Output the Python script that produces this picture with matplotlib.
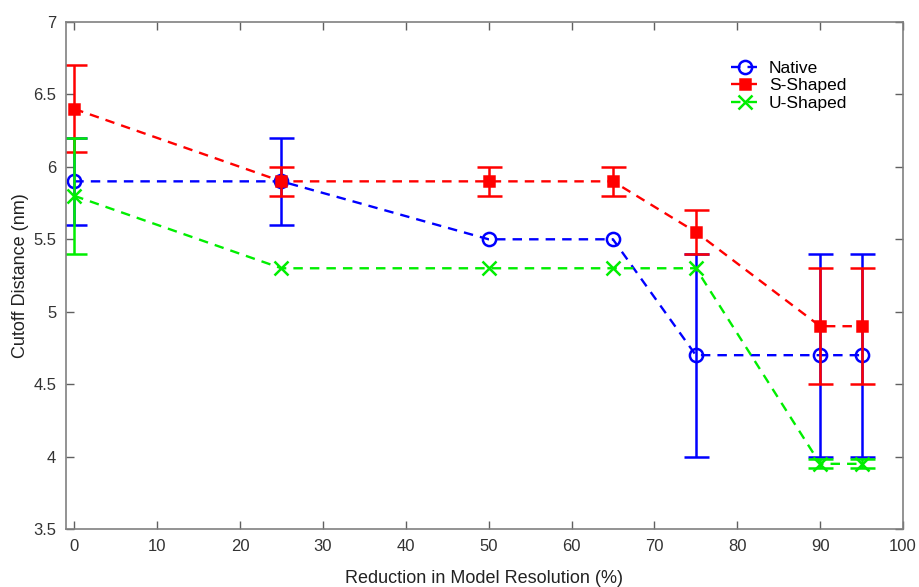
import matplotlib
matplotlib.use("Agg")
import matplotlib.pyplot as plt

plt.rcParams['font.family'] = ['Liberation Sans', 'DejaVu Sans']

reduction = [0, 25, 50, 65, 75, 90, 95]

native = [5.9, 5.9, 5.5, 5.5, 4.7, 4.7, 4.7]
native_err = [0.3, 0.3, 0.0, 0.0, 0.7, 0.7, 0.7]

s_shaped = [6.4, 5.9, 5.9, 5.9, 5.55, 4.9, 4.9]
s_shaped_err = [0.3, 0.1, 0.1, 0.1, 0.15, 0.4, 0.4]

u_shaped = [5.8, 5.3, 5.3, 5.3, 5.3, 3.95, 3.95]
u_shaped_err = [0.4, 0.0, 0.0, 0.0, 0.0, 0.03, 0.03]

x_ticks = list(range(0, 101, 10))
y_ticks = [3.5, 4, 4.5, 5, 5.5, 6, 6.5, 7]
y_tick_labels = ['3.5', '4', '4.5', '5', '5.5', '6', '6.5', '7']

fig = plt.figure(figsize=(9.19, 5.87), dpi=100)
ax = fig.add_axes([0.0718, 0.0988, 0.9108, 0.8637])

series = [
    ("Native", native, native_err, '#0000ff', 'o', 'none', 9.5),
    ("S-Shaped", s_shaped, s_shaped_err, '#ff0000', 's', '#ff0000', 7.5),
    ("U-Shaped", u_shaped, u_shaped_err, '#00ee00', 'x', '#00ee00', 10.5),
]

handles = []
for name, vals, errs, col, mk, mfc, ms in series:
    line, = ax.plot(reduction, vals, color=col, linestyle=(0, (4, 3)),
                    linewidth=1.7, marker=mk, markersize=ms,
                    markerfacecolor=mfc, markeredgecolor=col,
                    markeredgewidth=1.8, label=name)
    handles.append(line)
    # error bars only where a spread was measured
    xs = [x for x, e in zip(reduction, errs) if e > 0]
    ys = [v for v, e in zip(vals, errs) if e > 0]
    es = [e for e in errs if e > 0]
    ax.errorbar(xs, ys, yerr=es, fmt='none', ecolor=col,
                elinewidth=1.8, capsize=9, capthick=1.8)

ax.set_xlim(-1, 100)
ax.set_ylim(3.5, 7)
ax.set_xticks(x_ticks)
ax.set_yticks(y_ticks)
ax.set_yticklabels(y_tick_labels)

for sp in ax.spines.values():
    sp.set_color('#808080')
    sp.set_linewidth(1.2)
ax.tick_params(direction='in', top=True, right=True, length=6, width=1,
               color='#606060', labelsize=12, labelcolor='#333333', pad=7)

ax.set_xlabel('Reduction in Model Resolution (%)', fontsize=13, color='#222222', labelpad=12)
ax.set_ylabel('Cutoff Distance (nm)', fontsize=13, color='#222222', labelpad=3)

ax.legend(handles=handles, loc='upper right', bbox_to_anchor=(0.952, 0.955),
          frameon=False, fontsize=12.5, handlelength=1.6, handletextpad=0.6,
          labelspacing=0.15)

fig.savefig('out.png', dpi=100)
